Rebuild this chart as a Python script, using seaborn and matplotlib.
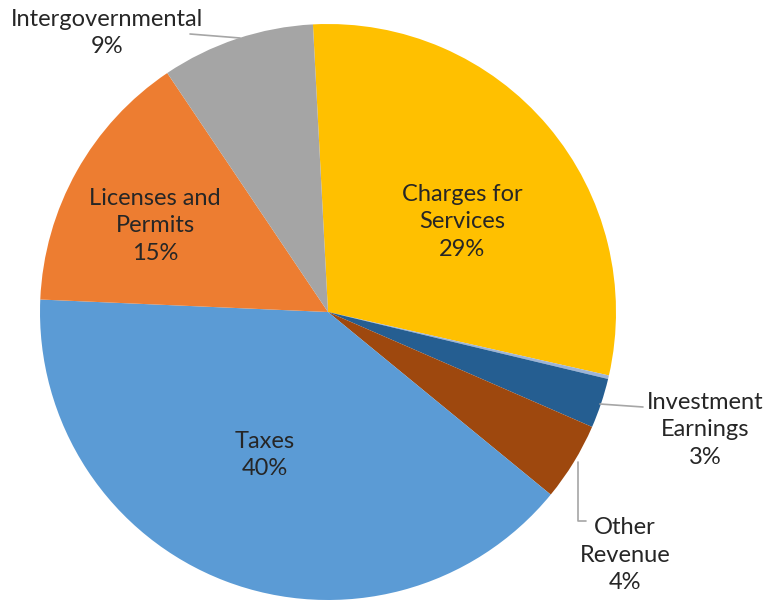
import matplotlib
matplotlib.use("Agg")
import matplotlib.pyplot as plt
import seaborn as sns

# slices, clockwise from the top
categories = ["Charges for\nServices", "", "Investment\nEarnings", "Other\nRevenue",
              "Taxes", "Licenses and\nPermits", "Intergovernmental"]
shares = [29.4, 0.2, 2.8, 4.4, 39.8, 14.9, 8.6]
colors = ["#FFC000", "#9DB4D6", "#255E91", "#9E480E", "#5B9BD5", "#ED7D31", "#A5A5A5"]

sns.set_theme(style="white")
plt.rcParams['font.family'] = ['Lato', 'DejaVu Sans']

W, H = 764, 600
cx, cy, r = 328, 312, 288
fig = plt.figure(figsize=(W / 100, H / 100), dpi=100)
ax = fig.add_axes([(cx - r) / W, (H - cy - r) / H, 2 * r / W, 2 * r / H])

ax.pie(shares, colors=colors, startangle=93, counterclock=False, radius=1,
       wedgeprops=dict(linewidth=0))
ax.set_xlim(-1, 1)
ax.set_ylim(-1, 1)
ax.set_aspect("equal")
ax.axis("off")


def px(x, y):
    return (x - cx) / r, (cy - y) / r


# label centres in pixels (x, y of the middle line)
label_pos = {0: (462, 222), 2: (705, 430), 3: (625, 555), 4: (265, 455),
             5: (155, 226), 6: (107, 33)}
total = sum(shares)
for i, (x, y) in label_pos.items():
    txt = categories[i] + "\n" + f"{round(shares[i] / total * 100)}%"
    tx, ty = px(x, y)
    ax.text(tx, ty, txt, ha="center", va="center", fontsize=17,
            color="#262626", linespacing=1.4, clip_on=False)

# leader lines
leaders = [[(190, 34), (240, 38)],
           [(600, 404), (643, 407)],
           [(578, 462), (578, 521), (586, 521)]]
for seg in leaders:
    xs, ys = zip(*[px(a, b) for a, b in seg])
    ax.plot(xs, ys, color="#A6A6A6", lw=1.2, clip_on=False)

fig.savefig("out.png", dpi=100)
